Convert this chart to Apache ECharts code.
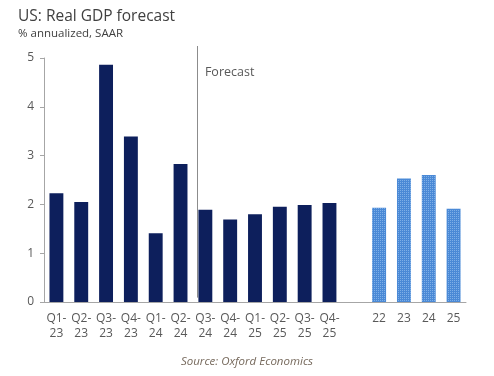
<!DOCTYPE html>
<html>
<head>
<meta charset="utf-8">
<script src="https://cdn.jsdelivr.net/npm/echarts@6/dist/echarts.min.js"></script>
<style>
  html, body { margin: 0; padding: 0; background: #fff; }
  #chart { width: 494px; height: 376px; }
</style>
</head>
<body>
<div id="chart"></div>
<script>
// categories: 12 quarters, one empty slot, then 4 years
var quarterLabels = ['Q1-\n23', 'Q2-\n23', 'Q3-\n23', 'Q4-\n23', 'Q1-\n24', 'Q2-\n24',
                     'Q3-\n24', 'Q4-\n24', 'Q1-\n25', 'Q2-\n25', 'Q3-\n25', 'Q4-\n25'];
var yearLabels = ['22', '23', '24', '25'];
var quarterValues = [2.23, 2.05, 4.86, 3.39, 1.41, 2.83, 1.89, 1.69, 1.80, 1.95, 1.99, 2.03];
var yearValues = [1.93, 2.53, 2.60, 1.91];
var yTicks = [0, 1, 2, 3, 4, 5];
var forecastAt = 6.16; // position of forecast divider, in category units

document.addEventListener('DOMContentLoaded', function() {
  var myChart = echarts.init(document.getElementById('chart'));

  var categories = quarterLabels.concat(['']).concat(yearLabels);
  var qData = quarterValues.concat(new Array(1 + yearLabels.length).fill('-'));
  var yData = new Array(quarterLabels.length + 1).fill('-').concat(yearValues);

  var font = "'Open Sans', 'Noto Sans', sans-serif";

  var option = {
    animation: false,
    textStyle: { fontFamily: font },
    title: [
      {
        text: 'US: Real GDP forecast',
        subtext: '% annualized, SAAR',
        left: 13,
        top: 4,
        itemGap: 3,
        textStyle: { fontSize: 15.5, fontWeight: 'normal', color: '#404040', fontFamily: font },
        subtextStyle: { fontSize: 11.5, color: '#404040', fontFamily: font }
      },
      {
        text: 'Source: Oxford Economics',
        left: 'center',
        top: 351,
        textStyle: { fontSize: 11.5, fontWeight: 'normal', fontStyle: 'italic', color: '#76695c', fontFamily: font }
      }
    ],
    grid: [
      { left: 44, right: 28, top: 58, bottom: 74 },
      // overlay grid for the forecast divider (reaches above the plot)
      { left: 44, right: 28, top: 46, bottom: 74 }
    ],
    xAxis: [
      {
        type: 'category',
        data: categories,
        axisLine: { lineStyle: { color: '#a6a6a6' } },
        axisTick: { length: 4, lineStyle: { color: '#a6a6a6' } },
        axisLabel: { color: '#595959', fontSize: 12, lineHeight: 15, margin: 9, interval: 0 }
      },
      {
        type: 'value',
        gridIndex: 1,
        min: 0,
        max: categories.length,
        show: false
      }
    ],
    yAxis: [
      {
        type: 'value',
        min: yTicks[0],
        max: yTicks[yTicks.length - 1],
        interval: 1,
        splitLine: { show: false },
        axisLine: { show: true, lineStyle: { color: '#a6a6a6' } },
        axisTick: { show: true, length: 4, lineStyle: { color: '#a6a6a6' } },
        axisLabel: { color: '#595959', fontSize: 12, margin: 10 }
      },
      {
        type: 'value',
        gridIndex: 1,
        min: 0,
        max: 1,
        show: false
      }
    ],
    series: [
      {
        type: 'bar',
        data: qData,
        barWidth: '56%',
        barGap: '-100%',
        itemStyle: { color: '#0d1f5c' }
      },
      {
        type: 'bar',
        data: yData,
        barWidth: '56%',
        itemStyle: {
          color: '#4a89d6',
          decal: {
            symbol: 'rect',
            symbolSize: 1,
            color: 'rgba(170, 205, 245, 0.55)',
            dashArrayX: [1, 1],
            dashArrayY: [1, 1],
            rotation: 0
          }
        }
      },
      // 预测分界线
      {
        type: 'line',
        xAxisIndex: 1,
        yAxisIndex: 1,
        data: [[forecastAt, '-']],
        showSymbol: false,
        markLine: {
          silent: true,
          symbol: 'none',
          lineStyle: { color: '#8c8c8c', type: 'solid', width: 1 },
          label: { show: false },
          data: [[{ coord: [forecastAt, 0.017] }, { coord: [forecastAt, 1] }]]
        },
        markPoint: {
          symbol: 'rect',
          symbolSize: 0,
          label: {
            show: true,
            formatter: 'Forecast',
            position: 'right',
            distance: 8,
            color: '#595959',
            fontSize: 12.5
          },
          data: [{ coord: [forecastAt, 0.896] }]
        }
      }
    ]
  };

  myChart.setOption(option);
});
</script>
</body>
</html>
